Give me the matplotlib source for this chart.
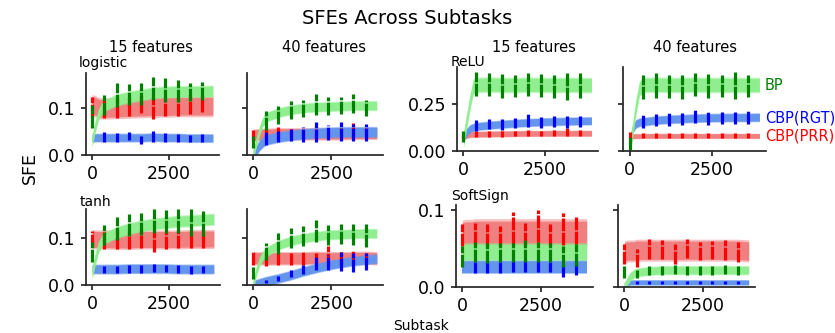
import numpy as np
import matplotlib.pyplot as plt

W, H = 835, 333

# x positions of the smoothed band samples and of the error bars
BAND_X = [0, 100, 200, 300, 400, 800, 1200, 1600, 2000, 2400, 2800, 3200, 3600, 3950]
BAR_X = [0, 400, 800, 1200, 1600, 2000, 2400, 2800, 3200, 3600]

LABELS = ["BP", "CBP(RGT)", "CBP(PRR)"]
LIGHT = {"BP": "#90ee90", "CBP(RGT)": "#6495ed", "CBP(PRR)": "#f08080"}
DARK = {"BP": "#008000", "CBP(RGT)": "#0000ff", "CBP(PRR)": "#ff0000"}

# ---- logistic, 15 features
log15_bp_band = [0.03, 0.06, 0.085, 0.097, 0.105, 0.117, 0.123, 0.128, 0.132, 0.134, 0.135, 0.135, 0.135, 0.136]
log15_bp_mean = [0.082, 0.106, 0.128, 0.129, 0.13, 0.142, 0.138, 0.136, 0.134, 0.136]
log15_bp_err = [0.025, 0.021, 0.025, 0.023, 0.024, 0.025, 0.025, 0.023, 0.02, 0.019]
log15_rgt_band = [0.036, 0.037, 0.037, 0.037, 0.037, 0.037, 0.037, 0.037, 0.038, 0.037, 0.037, 0.036, 0.036, 0.036]
log15_rgt_mean = [0.039, 0.037, 0.04, 0.032, 0.04, 0.037, 0.036, 0.035, 0.036]
log15_rgt_err = [0.011, 0.009, 0.009, 0.008, 0.012, 0.009, 0.008, 0.008, 0.008]
log15_prr_band = [0.106, 0.104, 0.1, 0.099, 0.099, 0.1, 0.101, 0.102, 0.103, 0.103, 0.104, 0.104, 0.104, 0.104]
log15_prr_mean = [0.102, 0.098, 0.1, 0.102, 0.108, 0.1, 0.104, 0.104, 0.108, 0.11]
log15_prr_err = [0.021, 0.02, 0.021, 0.02, 0.018, 0.023, 0.02, 0.02, 0.02, 0.018]
log15_spread = [0.011, 0.008, 0.019]

# ---- logistic, 40 features
log40_bp_band = [0.0, 0.028, 0.052, 0.07, 0.08, 0.09, 0.096, 0.1, 0.102, 0.103, 0.104, 0.105, 0.105, 0.105]
log40_bp_mean = [0.027, 0.074, 0.085, 0.095, 0.098, 0.107, 0.104, 0.105, 0.11, 0.1]
log40_bp_err = [0.013, 0.02, 0.019, 0.019, 0.018, 0.022, 0.019, 0.018, 0.02, 0.018]
log40_rgt_band = [0.002, 0.01, 0.02, 0.027, 0.032, 0.038, 0.042, 0.045, 0.047, 0.048, 0.049, 0.049, 0.049, 0.049]
log40_rgt_mean = [0.036, 0.04, 0.042, 0.044, 0.049, 0.048, 0.05, 0.047, 0.048]
log40_rgt_err = [0.014, 0.012, 0.013, 0.016, 0.021, 0.016, 0.02, 0.018, 0.018]
log40_prr_band = [0.042, 0.043, 0.043, 0.044, 0.044, 0.045, 0.045, 0.045, 0.045, 0.045, 0.045, 0.046, 0.046, 0.046]
log40_prr_mean = [0.043, 0.045, 0.047, 0.045, 0.044, 0.045, 0.044, 0.046, 0.05, 0.046]
log40_prr_err = [0.011, 0.011, 0.012, 0.011, 0.01, 0.011, 0.01, 0.012, 0.018, 0.012]
log40_spread = [0.009, 0.01, 0.011]

# ---- ReLU, 15 features
relu15_bp_band = [0.06, 0.16, 0.26, 0.34, 0.35, 0.352, 0.35, 0.349, 0.351, 0.35, 0.349, 0.35, 0.35, 0.349]
relu15_bp_mean = [0.076, 0.355, 0.351, 0.344, 0.344, 0.351, 0.346, 0.34, 0.346, 0.346]
relu15_bp_err = [0.03, 0.066, 0.062, 0.064, 0.06, 0.062, 0.062, 0.06, 0.075, 0.066]
relu15_rgt_band = [0.07, 0.1, 0.118, 0.125, 0.13, 0.137, 0.142, 0.147, 0.151, 0.154, 0.156, 0.158, 0.159, 0.16]
relu15_rgt_mean = [0.136, 0.143, 0.14, 0.148, 0.162, 0.152, 0.156, 0.154, 0.158]
relu15_rgt_err = [0.03, 0.027, 0.03, 0.028, 0.033, 0.03, 0.03, 0.03, 0.03]
relu15_prr_band = [0.075, 0.083, 0.087, 0.088, 0.089, 0.09, 0.091, 0.092, 0.093, 0.093, 0.094, 0.094, 0.094, 0.094]
relu15_prr_mean = [0.08, 0.09, 0.09, 0.091, 0.092, 0.093, 0.092, 0.094, 0.1, 0.095]
relu15_prr_err = [0.015, 0.014, 0.014, 0.015, 0.014, 0.016, 0.015, 0.015, 0.022, 0.016]
relu15_spread = [0.035, 0.019, 0.014]

# ---- ReLU, 40 features
relu40_bp_band = [0.005, 0.12, 0.24, 0.33, 0.35, 0.351, 0.35, 0.35, 0.351, 0.35, 0.35, 0.35, 0.349, 0.35]
relu40_bp_mean = [0.04, 0.338, 0.348, 0.343, 0.34, 0.351, 0.344, 0.345, 0.351, 0.345]
relu40_bp_err = [0.036, 0.063, 0.065, 0.06, 0.062, 0.062, 0.064, 0.06, 0.074, 0.06]
relu40_rgt_band = [0.05, 0.12, 0.145, 0.152, 0.155, 0.163, 0.168, 0.171, 0.174, 0.176, 0.177, 0.178, 0.178, 0.179]
relu40_rgt_mean = [0.156, 0.163, 0.167, 0.17, 0.186, 0.173, 0.176, 0.175, 0.18]
relu40_rgt_err = [0.035, 0.033, 0.033, 0.032, 0.038, 0.033, 0.033, 0.033, 0.035]
relu40_prr_band = [0.075, 0.078, 0.079, 0.079, 0.08, 0.08, 0.08, 0.08, 0.08, 0.08, 0.08, 0.08, 0.08, 0.08]
relu40_prr_mean = [0.079, 0.08, 0.08, 0.081, 0.08, 0.081, 0.08, 0.081, 0.081, 0.08]
relu40_prr_err = [0.021, 0.013, 0.013, 0.013, 0.013, 0.013, 0.013, 0.013, 0.013, 0.013]
relu40_spread = [0.035, 0.02, 0.012]

# ---- tanh, 15 features
tanh15_bp_band = [0.025, 0.055, 0.08, 0.092, 0.1, 0.112, 0.12, 0.126, 0.13, 0.133, 0.136, 0.137, 0.139, 0.14]
tanh15_bp_mean = [0.071, 0.106, 0.12, 0.128, 0.13, 0.136, 0.135, 0.136, 0.133, 0.131]
tanh15_bp_err = [0.021, 0.021, 0.024, 0.024, 0.024, 0.026, 0.024, 0.026, 0.028, 0.027]
tanh15_rgt_band = [0.034, 0.034, 0.034, 0.034, 0.034, 0.034, 0.035, 0.035, 0.035, 0.035, 0.034, 0.034, 0.034, 0.034]
tanh15_rgt_mean = [0.033, 0.033, 0.034, 0.034, 0.036, 0.035, 0.034, 0.032, 0.033]
tanh15_rgt_err = [0.008, 0.008, 0.008, 0.008, 0.009, 0.008, 0.008, 0.008, 0.008]
tanh15_prr_band = [0.098, 0.097, 0.097, 0.097, 0.097, 0.096, 0.096, 0.097, 0.097, 0.097, 0.097, 0.098, 0.098, 0.098]
tanh15_prr_mean = [0.098, 0.095, 0.097, 0.095, 0.098, 0.092, 0.096, 0.098, 0.097, 0.099]
tanh15_prr_err = [0.017, 0.018, 0.02, 0.019, 0.02, 0.022, 0.02, 0.02, 0.019, 0.02]
tanh15_spread = [0.011, 0.009, 0.017]

# ---- tanh, 40 features
tanh40_bp_band = [0.0, 0.03, 0.05, 0.062, 0.07, 0.085, 0.094, 0.1, 0.104, 0.107, 0.108, 0.109, 0.11, 0.11]
tanh40_bp_mean = [0.026, 0.072, 0.089, 0.1, 0.104, 0.115, 0.107, 0.109, 0.108, 0.105]
tanh40_bp_err = [0.013, 0.018, 0.022, 0.021, 0.021, 0.023, 0.021, 0.021, 0.023, 0.024]
tanh40_rgt_band = [0.0, 0.002, 0.004, 0.006, 0.008, 0.014, 0.021, 0.029, 0.036, 0.042, 0.047, 0.051, 0.054, 0.056]
tanh40_rgt_mean = [0.008, 0.014, 0.025, 0.033, 0.046, 0.048, 0.05, 0.048, 0.05]
tanh40_rgt_err = [0.003, 0.005, 0.008, 0.01, 0.014, 0.016, 0.021, 0.02, 0.019]
tanh40_prr_band = [0.058, 0.057, 0.057, 0.057, 0.056, 0.057, 0.057, 0.057, 0.058, 0.057, 0.057, 0.057, 0.058, 0.057]
tanh40_prr_mean = [0.058, 0.055, 0.057, 0.056, 0.057, 0.056, 0.062, 0.057, 0.058, 0.057]
tanh40_prr_err = [0.015, 0.014, 0.014, 0.013, 0.014, 0.013, 0.022, 0.013, 0.014, 0.012]
tanh40_spread = [0.009, 0.009, 0.012]

# ---- SoftSign, 15 features
soft15_bp_band = [0.045, 0.046, 0.046, 0.046, 0.046, 0.046, 0.046, 0.046, 0.046, 0.046, 0.046, 0.046, 0.046, 0.046]
soft15_bp_mean = [0.04, 0.046, 0.044, 0.045, 0.045, 0.047, 0.046, 0.045, 0.04, 0.042]
soft15_bp_err = [0.014, 0.013, 0.013, 0.013, 0.013, 0.014, 0.013, 0.013, 0.014, 0.014]
soft15_rgt_band = [0.026, 0.026, 0.026, 0.026, 0.026, 0.026, 0.026, 0.026, 0.026, 0.026, 0.026, 0.026, 0.026, 0.026]
soft15_rgt_mean = [0.025, 0.026, 0.025, 0.027, 0.027, 0.027, 0.026, 0.022, 0.024]
soft15_rgt_err = [0.007, 0.008, 0.007, 0.008, 0.008, 0.008, 0.007, 0.009, 0.008]
soft15_prr_band = [0.068, 0.069, 0.069, 0.069, 0.07, 0.07, 0.07, 0.07, 0.07, 0.07, 0.07, 0.07, 0.07, 0.07]
soft15_prr_mean = [0.068, 0.07, 0.068, 0.066, 0.077, 0.069, 0.08, 0.068, 0.076, 0.074]
soft15_prr_err = [0.014, 0.014, 0.014, 0.013, 0.021, 0.014, 0.021, 0.014, 0.021, 0.018]
soft15_spread = [0.01, 0.008, 0.016]

# ---- SoftSign, 40 features
soft40_bp_band = [0.0, 0.008, 0.014, 0.017, 0.019, 0.021, 0.022, 0.022, 0.022, 0.022, 0.022, 0.022, 0.022, 0.022]
soft40_bp_mean = [0.02, 0.017, 0.022, 0.022, 0.023, 0.022, 0.022, 0.022, 0.023, 0.022]
soft40_bp_err = [0.008, 0.005, 0.006, 0.006, 0.006, 0.006, 0.006, 0.006, 0.006, 0.006]
soft40_rgt_band = [0.003, 0.005, 0.006, 0.006, 0.006, 0.006, 0.006, 0.006, 0.006, 0.006, 0.006, 0.006, 0.006, 0.006]
soft40_rgt_mean = [0.006, 0.006, 0.006, 0.006, 0.006, 0.006, 0.006, 0.006, 0.006]
soft40_rgt_err = [0.002, 0.002, 0.002, 0.002, 0.002, 0.002, 0.002, 0.002, 0.002]
soft40_prr_band = [0.046, 0.047, 0.047, 0.047, 0.048, 0.048, 0.048, 0.048, 0.048, 0.048, 0.048, 0.048, 0.048, 0.047]
soft40_prr_mean = [0.043, 0.038, 0.05, 0.049, 0.043, 0.05, 0.047, 0.048, 0.048, 0.046]
soft40_prr_err = [0.013, 0.012, 0.013, 0.012, 0.013, 0.012, 0.012, 0.012, 0.013, 0.013]
soft40_spread = [0.005, 0.003, 0.012]


def pack(bp, rgt, prr, spread):
    # drawing order: PRR first, then RGT, BP on top
    return [("CBP(PRR)", *prr, spread[2]), ("CBP(RGT)", *rgt, spread[1]), ("BP", *bp, spread[0])]


panels = [
    # (left px, right px, top px, bottom px, ylim top, yticks, show y labels, series)
    (86, 219, 73, 155, 0.1745, [0.0, 0.1], True,
     pack((log15_bp_band, log15_bp_mean, log15_bp_err), (log15_rgt_band, log15_rgt_mean, log15_rgt_err),
          (log15_prr_band, log15_prr_mean, log15_prr_err), log15_spread)),
    (247, 383, 73, 155, 0.1745, [0.0, 0.1], False,
     pack((log40_bp_band, log40_bp_mean, log40_bp_err), (log40_rgt_band, log40_rgt_mean, log40_rgt_err),
          (log40_prr_band, log40_prr_mean, log40_prr_err), log40_spread)),
    (457, 598, 67, 151, 0.445, [0.0, 0.25], True,
     pack((relu15_bp_band, relu15_bp_mean, relu15_bp_err), (relu15_rgt_band, relu15_rgt_mean, relu15_rgt_err),
          (relu15_prr_band, relu15_prr_mean, relu15_prr_err), relu15_spread)),
    (623, 766, 67, 151, 0.445, [0.0, 0.25], False,
     pack((relu40_bp_band, relu40_bp_mean, relu40_bp_err), (relu40_rgt_band, relu40_rgt_mean, relu40_rgt_err),
          (relu40_prr_band, relu40_prr_mean, relu40_prr_err), relu40_spread)),
    (86, 220, 209, 285, 0.162, [0.0, 0.1], True,
     pack((tanh15_bp_band, tanh15_bp_mean, tanh15_bp_err), (tanh15_rgt_band, tanh15_rgt_mean, tanh15_rgt_err),
          (tanh15_prr_band, tanh15_prr_mean, tanh15_prr_err), tanh15_spread)),
    (247, 383, 209, 285, 0.162, [0.0, 0.1], False,
     pack((tanh40_bp_band, tanh40_bp_mean, tanh40_bp_err), (tanh40_rgt_band, tanh40_rgt_mean, tanh40_rgt_err),
          (tanh40_prr_band, tanh40_prr_mean, tanh40_prr_err), tanh40_spread)),
    (456, 593, 205, 287, 0.107, [0.0, 0.1], True,
     pack((soft15_bp_band, soft15_bp_mean, soft15_bp_err), (soft15_rgt_band, soft15_rgt_mean, soft15_rgt_err),
          (soft15_prr_band, soft15_prr_mean, soft15_prr_err), soft15_spread)),
    (618, 755, 205, 287, 0.107, [0.0, 0.1], False,
     pack((soft40_bp_band, soft40_bp_mean, soft40_bp_err), (soft40_rgt_band, soft40_rgt_mean, soft40_rgt_err),
          (soft40_prr_band, soft40_prr_mean, soft40_prr_err), soft40_spread)),
]

fig = plt.figure(figsize=(W / 100, H / 100), dpi=100)

for left, right, top, bottom, ytop, yticks, ylab, series in panels:
    ax = fig.add_axes([left / W, 1 - bottom / H, (right - left) / W, (bottom - top) / H])
    for name, band, mean, err, spread in series:
        band = np.array(band)
        ax.fill_between(BAND_X, band - 1.2 * spread, band + 1.2 * spread, color=LIGHT[name], alpha=0.5, lw=0)
        ax.fill_between(BAND_X, band - spread, band + spread, color=LIGHT[name], lw=0)
        xs = BAR_X[len(BAR_X) - len(mean):]
        mean = np.array(mean)
        err = np.array(err)
        ax.vlines(xs, mean - err, mean + err, colors=DARK[name], lw=2.3, linestyles=(0, (4, 0.45)))
    ax.set_xlim(-200, 4150)
    ax.set_ylim(0, ytop)
    ax.set_xticks([0, 2500])
    ax.set_yticks(yticks)
    if not ylab:
        ax.set_yticklabels([])
    ax.spines[["top", "right"]].set_visible(False)
    for s in ("left", "bottom"):
        ax.spines[s].set_linewidth(1.25)
        ax.spines[s].set_color("#262626")
    ax.tick_params(labelsize=12.5, width=1.25, length=3.5, color="#262626", pad=4)


def ftext(x, y, s, **kw):
    fig.text(x / W, 1 - y / H, s, **kw)


ftext(407, 19, "SFEs Across Subtasks", ha="center", va="center", fontsize=14)
for cx, title in [(151, "15 features"), (324, "40 features"), (534, "15 features"), (695, "40 features")]:
    ftext(cx, 48, title, ha="center", va="center", fontsize=10.5)
for x, y, s in [(79, 63, "logistic"), (80, 202, "tanh"), (451, 62, "ReLU"), (451, 196, "SoftSign")]:
    ftext(x, y, s, ha="left", va="center", fontsize=10)
ftext(30, 168, "SFE", ha="center", va="center", rotation=90, fontsize=12.5)
ftext(421, 326, "Subtask", ha="center", va="center", fontsize=10)
for y, name in [(85, "BP"), (118, "CBP(RGT)"), (136, "CBP(PRR)")]:
    ftext(765, y, name, ha="left", va="center", fontsize=10.5, color=DARK[name])

fig.savefig("out.png", dpi=100)
